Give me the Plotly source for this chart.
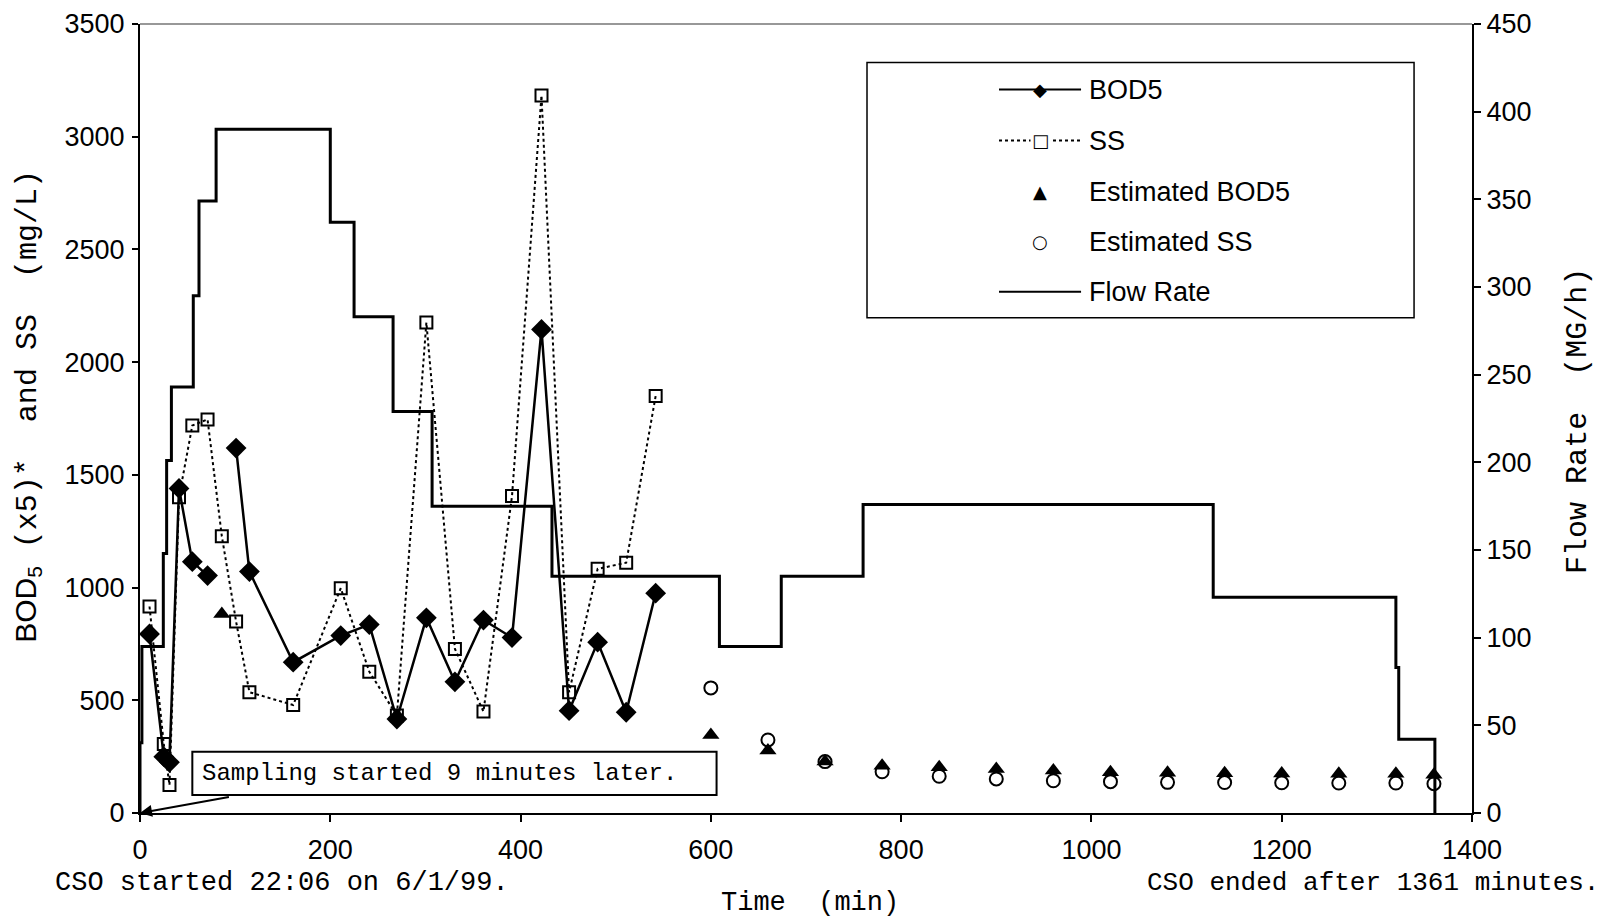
import plotly.graph_objects as go

# ---------------- data ----------------
# measured samples, time in minutes after CSO start
sample_time = [10, 25, 31, 41, 55, 71, 86, 101, 115, 161, 211, 241, 270, 301,
               331, 361, 391, 422, 451, 481, 511, 542]
bod5_x5 = [794, 250, 225, 1440, 1115, 1053, None, 1619, 1071, 669, 787, 836,
           417, 866, 582, 856, 778, 2145, 454, 758, 447, 975]
ss_mgL = [916, 306, 124, 1401, 1719, 1746, 1228, 849, 536, 479, 997, 627,
          432, 2176, 728, 450, 1406, 3183, 536, 1083, 1110, 1850]

# estimated values
est_bod_time = [86, 600, 660, 720, 780, 840, 900, 960, 1020, 1080, 1140, 1200,
                1260, 1320, 1360]
est_bod5 = [883, 346, 277, 228, 210, 203, 195, 188, 181, 178, 176, 175, 174,
            174, 170]
est_ss_time = [600, 660, 720, 780, 840, 900, 960, 1020, 1080, 1140, 1200, 1260,
               1320, 1360]
est_ss = [555, 324, 228, 183, 163, 151, 143, 139, 136, 135, 134, 133, 133, 130]

# flow rate step function (start of each step), MG/h
flow_time = [0, 0, 2, 24.5, 28, 33, 56, 62, 80, 200, 225, 266, 307, 433, 609,
             674, 760, 1128, 1320, 1323, 1361]
flow_rate = [0, 40, 95, 148, 201, 243, 295, 349, 390, 337, 283, 229, 175, 135,
             95, 135, 176, 123, 83, 42, 0]

x_ticks = [0, 200, 400, 600, 800, 1000, 1200, 1400]
left_ticks = [0, 500, 1000, 1500, 2000, 2500, 3000, 3500]
right_ticks = [0, 50, 100, 150, 200, 250, 300, 350, 400, 450]

SANS = "Liberation Sans, Arial, sans-serif"
MONO = "Liberation Mono, Courier New, monospace"
BLACK = "#000000"

fig = go.Figure()

fig.add_trace(go.Scatter(
    x=flow_time, y=flow_rate, yaxis="y2", mode="lines", name="Flow Rate",
    line=dict(color=BLACK, width=3, shape="hv"), showlegend=False))

fig.add_trace(go.Scatter(
    x=sample_time, y=ss_mgL, mode="lines+markers", name="SS",
    line=dict(color=BLACK, width=2, dash="dot"),
    marker=dict(symbol="square-open", size=12, color=BLACK,
                line=dict(width=2, color=BLACK)),
    showlegend=False))

fig.add_trace(go.Scatter(
    x=sample_time, y=bod5_x5, mode="lines+markers", name="BOD5",
    line=dict(color=BLACK, width=2.5), connectgaps=False,
    marker=dict(symbol="diamond", size=16, color=BLACK),
    showlegend=False))

fig.add_trace(go.Scatter(
    x=est_bod_time, y=est_bod5, mode="markers", name="Estimated BOD5",
    marker=dict(symbol="triangle-up", size=15, color=BLACK),
    showlegend=False))

fig.add_trace(go.Scatter(
    x=est_ss_time, y=est_ss, mode="markers", name="Estimated SS",
    marker=dict(symbol="circle-open", size=13, color=BLACK,
                line=dict(width=2, color=BLACK)),
    showlegend=False))

# ---------------- manual legend ----------------
shapes = []
annotations = []
shapes.append(dict(type="rect", xref="paper", yref="paper",
                   x0=0.5458, x1=0.9565, y0=0.6278, y1=0.9512,
                   line=dict(color=BLACK, width=1.5), fillcolor="white",
                   layer="below"))
leg_rows = [0.9169, 0.8523, 0.7876, 0.7242, 0.6608]
leg_names = ["BOD5", "SS", "Estimated BOD5", "Estimated SS", "Flow Rate"]
leg_glyph = ["\u25C6", "\u25A1", "\u25B2", "\u25CB", ""]
leg_line = ["solid", "dot", None, None, "solid"]
lx0, lx1, lxm, ltx = 0.6449, 0.7065, 0.6757, 0.7110
for yy, nm, gl, ls in zip(leg_rows, leg_names, leg_glyph, leg_line):
    if ls is not None:
        shapes.append(dict(type="line", xref="paper", yref="paper",
                           x0=lx0, x1=lx1, y0=yy, y1=yy,
                           line=dict(color=BLACK, width=2, dash=ls)))
    if gl:
        annotations.append(dict(xref="paper", yref="paper", x=lxm, y=yy,
                                text=gl, showarrow=False,
                                bgcolor="white" if ls == "dot" else None,
                                font=dict(family="DejaVu Sans", size=18,
                                          color=BLACK),
                                xanchor="center", yanchor="middle"))
    annotations.append(dict(xref="paper", yref="paper", x=ltx, y=yy,
                            text=nm, showarrow=False,
                            font=dict(family=SANS, size=27, color=BLACK),
                            xanchor="left", yanchor="middle"))

# thin top border of the plot frame
shapes.append(dict(type="line", xref="paper", yref="paper", x0=0, x1=1,
                   y0=1, y1=1, line=dict(color="#333333", width=1.2)))

# sampling note box, text and arrow to origin
shapes.append(dict(type="rect", xref="x", yref="y", x0=55, x1=606,
                   y0=80, y1=272, line=dict(color=BLACK, width=2),
                   fillcolor="white", layer="above"))
annotations.append(dict(xref="x", yref="y", x=63, y=176,
                        text="Sampling started 9 minutes later.",
                        showarrow=False, xanchor="left", yanchor="middle",
                        font=dict(family=MONO, size=24, color=BLACK)))
annotations.append(dict(xref="x", yref="y", x=0, y=0, text="",
                        showarrow=True, axref="x", ayref="y", ax=95, ay=72,
                        arrowhead=2, arrowsize=1.2, arrowwidth=2,
                        arrowcolor=BLACK))

# axis titles and footnotes
annotations.append(dict(
    xref="paper", yref="paper", x=-0.0841, y=0.516, textangle=-90,
    text=("<span style='font-family:Liberation Sans'>BOD<sub>5</sub></span>"
          " (x5)*  and SS  (mg/L)"),
    showarrow=False, xanchor="center", yanchor="middle",
    font=dict(family=MONO, size=30, color=BLACK)))
annotations.append(dict(
    xref="paper", yref="paper", x=1.0796, y=0.497, textangle=-90,
    text="Flow Rate  (MG/h)", showarrow=False,
    xanchor="center", yanchor="middle",
    font=dict(family=MONO, size=30, color=BLACK)))
annotations.append(dict(
    xref="paper", yref="paper", x=0.503, y=-0.1135, text="Time  (min)",
    showarrow=False, xanchor="center", yanchor="middle",
    font=dict(family=MONO, size=27, color=BLACK)))
annotations.append(dict(
    xref="paper", yref="paper", x=-0.0653, y=-0.0888,
    text="CSO started 22:06 on 6/1/99.", showarrow=False,
    xanchor="left", yanchor="middle",
    font=dict(family=MONO, size=27, color=BLACK)))
annotations.append(dict(
    xref="paper", yref="paper", x=1.0965, y=-0.0888,
    text="CSO ended after 1361 minutes.", showarrow=False,
    xanchor="right", yanchor="middle",
    font=dict(family=MONO, size=26, color=BLACK)))

TICKFONT = dict(family=SANS, size=27, color=BLACK)

fig.update_layout(
    width=1594, height=913,
    margin=dict(l=132, r=130, t=16, b=108, autoexpand=False),
    paper_bgcolor="white", plot_bgcolor="white",
    showlegend=False,
    font=dict(family=SANS, size=24, color=BLACK),
    shapes=shapes, annotations=annotations,
    xaxis=dict(range=[0, 1400], tickvals=x_ticks, ticks="outside",
               ticklen=7, tickwidth=1.5, tickcolor=BLACK,
               ticklabelstandoff=5, automargin=False,
               showline=True, linecolor=BLACK, linewidth=2, mirror=False,
               showgrid=False, zeroline=False, tickfont=TICKFONT),
    yaxis=dict(range=[0, 3500], tickvals=left_ticks, ticks="outside",
               ticklen=6, tickwidth=1.5, tickcolor=BLACK,
               ticklabelstandoff=2, automargin=False,
               showline=True, linecolor=BLACK, linewidth=2,
               showgrid=False, zeroline=False, tickfont=TICKFONT),
    yaxis2=dict(range=[0, 450], tickvals=right_ticks, overlaying="y",
                side="right", ticks="outside", ticklen=7, tickwidth=1.5,
                tickcolor=BLACK, showline=True, linecolor=BLACK,
                linewidth=2, showgrid=False, zeroline=False,
                automargin=False, tickfont=TICKFONT),
    yaxis3=dict(range=[0, 450], tickvals=right_ticks, overlaying="y",
                side="right", ticks="inside", ticklen=7, tickwidth=1.5,
                tickcolor=BLACK, showticklabels=False, showline=False,
                showgrid=False, zeroline=False, automargin=False),
)

fig.write_html("out.html")
